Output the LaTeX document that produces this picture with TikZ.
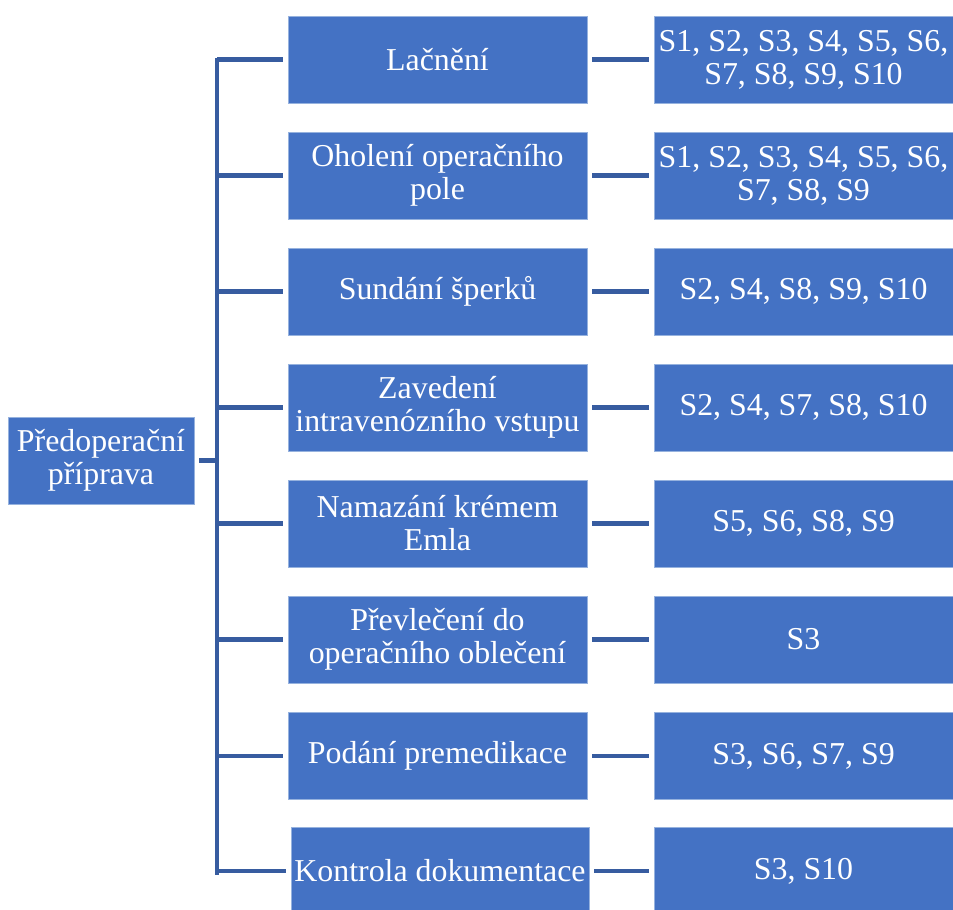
\documentclass[tikz,border=0pt]{standalone}
\usepackage{fontspec}
\setmainfont{Liberation Serif}
\usetikzlibrary{positioning}

\definecolor{boxfill}{RGB}{68,114,196}
\definecolor{boxedge}{RGB}{150,178,222}
\definecolor{linkcol}{RGB}{55,92,160}

\tikzset{
  stepbox/.style={rectangle, fill=boxfill, draw=boxedge, line width=0.4pt, text=white,
    minimum width=224.25pt, minimum height=65.25pt, inner sep=0pt, outer sep=4pt,
    align=center, font=\fontsize{23.9}{24.8}\selectfont},
  link/.style={draw=linkcol, line width=3.4pt}
}

\begin{document}
\begin{tikzpicture}[x=0.75pt,y=0.75pt,yscale=-1,xscale=1]
\useasboundingbox (0,0) rectangle (953,910);

% Root
\node [stepbox, minimum width=139.5pt] (root) at (101,460.5) {Předoperační\\příprava};

% Steps
\node [stepbox] (lac) at (437.5,59.5) {Lačnění};
\node [stepbox] (oho) at (437.5,175.5) {Oholení operačního\\pole};
\node [stepbox] (sun) at (437.5,291.5) {Sundání šperků};
\node [stepbox] (zav) at (437.5,407.5) {Zavedení\\intravenózního vstupu};
\node [stepbox] (nam) at (437.5,523.5) {Namazání krémem\\Emla};
\node [stepbox] (pre) at (437.5,639.5) {Převlečení do\\operačního oblečení};
\node [stepbox] (pod) at (437.5,756) {Podání premedikace};
\node [stepbox, minimum width=223.5pt] (kon) at (440,871) {Kontrola dokumentace};

% Subjects
\node [stepbox] (slac) at (803.5,59.5) {S1, S2, S3, S4, S5, S6,\\S7, S8, S9, S10};
\node [stepbox] (soho) at (803.5,175.5) {S1, S2, S3, S4, S5, S6,\\S7, S8, S9};
\node [stepbox] (ssun) at (803.5,291.5) {S2, S4, S8, S9, S10};
\node [stepbox] (szav) at (803.5,407.5) {S2, S4, S7, S8, S10};
\node [stepbox] (snam) at (803.5,523.5) {S5, S6, S8, S9};
\node [stepbox] (spre) at (803.5,639.5) {S3};
\node [stepbox] (spod) at (803.5,756) {S3, S6, S7, S9};
\node [stepbox] (skon) at (803.5,871) {S3, S10};

% Spine
\coordinate (top) at (217,58);
\coordinate (bot) at (217,875);
\draw [link] (top) -- (bot);
\draw [link] (root.east) -- (top |- root.east);

% Branches
\draw [link] (top |- lac.west) -- (lac.west);
\draw [link] (top |- oho.west) -- (oho.west);
\draw [link] (top |- sun.west) -- (sun.west);
\draw [link] (top |- zav.west) -- (zav.west);
\draw [link] (top |- nam.west) -- (nam.west);
\draw [link] (top |- pre.west) -- (pre.west);
\draw [link] (top |- pod.west) -- (pod.west);
\draw [link] (top |- kon.west) -- (kon.west);

% Steps to subjects
\draw [link] (lac) -- (slac);
\draw [link] (oho) -- (soho);
\draw [link] (sun) -- (ssun);
\draw [link] (zav) -- (szav);
\draw [link] (nam) -- (snam);
\draw [link] (pre) -- (spre);
\draw [link] (pod) -- (spod);
\draw [link] (kon) -- (skon);

\end{tikzpicture}
\end{document}
